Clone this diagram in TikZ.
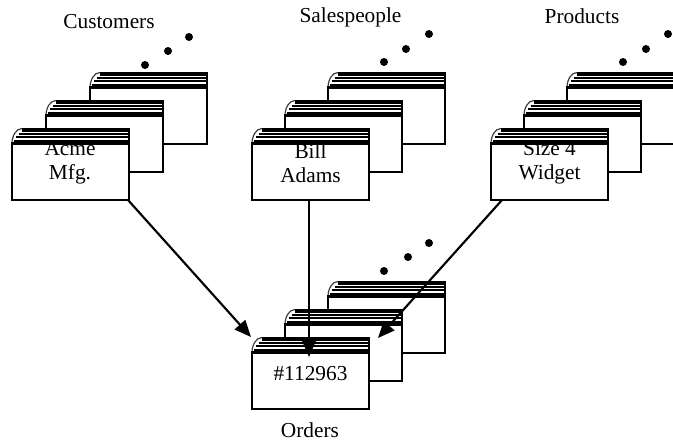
\documentclass[tikz,border=0pt]{standalone}
\usepackage{fontspec}
\setmainfont{Liberation Serif}
\usetikzlibrary{arrows.meta}
\tikzset{
  pics/card/.style={code={
    \fill[white] (0,15.5) -- (0,10) .. controls (1,4) and (4,0.3) .. (10,0.3) -- (117,0.3) -- (117,72) -- (0,72) -- cycle;
    \draw[line width=2.6pt] (10,1.8) -- (117,1.8);
    \draw[line width=1.5pt] (6.5,5.8) -- (117,5.8);
    \draw[line width=1.5pt] (3.8,9.3) -- (117,9.3);
    \draw[line width=1.5pt] (1.8,12.6) -- (117,12.6);
    \draw[line width=0.9pt, black!75] (0,15.5) .. controls (0,8) and (4,0.5) .. (10,0.5);
    \draw[line width=2.1pt] (0,15.5) rectangle (117,72);
    \draw[line width=2.1pt] (117,0.3) -- (117,72);
  }},
  dot/.style={fill=black, circle, inner sep=0pt, minimum size=6pt},
  lbl/.style={anchor=base, inner sep=0pt, font=\fontsize{16}{18}\selectfont},
  cardtext/.style={align=center, inner sep=0pt, font=\fontsize{16}{18.2}\selectfont},
  link/.style={line width=1.6pt, -{Triangle[length=12.5pt,width=10.5pt]}}
}
\begin{document}
\begin{tikzpicture}[x=0.75pt, y=-0.75pt]
\clip (0,0) rectangle (673,440);
\fill[white] (0,0) rectangle (673,440);

% Customers
\pic (cu3) at (90,72) {card};
\pic (cu2) at (46,100) {card};
\pic (cu1) at (12,128) {card};
\node[cardtext] (acme) at (70,163) {Acme\\Mfg.};
\node[dot] (cud1) at (145,65) {};
\node[dot] (cud2) at (168,51) {};
\node[dot] (cud3) at (189,37) {};
\node[lbl] (customers) at (109,28) {Customers};

% Salespeople
\pic (sa3) at (328,72) {card};
\pic (sa2) at (285,100) {card};
\pic (sa1) at (252,128) {card};
\node[cardtext] (bill) at (310.5,163) {Bill\\Adams};
\node[dot] (sad1) at (384,62) {};
\node[dot] (sad2) at (406,49) {};
\node[dot] (sad3) at (429,34) {};
\node[lbl] (salespeople) at (350.5,22) {Salespeople};

% Products
\pic (pr3) at (567,72) {card};
\pic (pr2) at (524,100) {card};
\pic (pr1) at (491,128) {card};
\node[cardtext] (widget) at (549.5,163) {Size 4\\Widget};
\node[dot] (prd1) at (623,62) {};
\node[dot] (prd2) at (646,49) {};
\node[dot] (prd3) at (668,34) {};
\node[lbl] (products) at (582,23) {Products};

% Orders
\pic (or3) at (328,281) {card};
\pic (or2) at (285,309) {card};
\pic (or1) at (252,337) {card};
\node[cardtext] (order) at (310.5,374) {\#112963};
\node[dot] (ord1) at (384,271) {};
\node[dot] (ord2) at (408,257) {};
\node[dot] (ord3) at (429,243) {};
\node[lbl] (orders) at (310,437) {Orders};

% connectors
\coordinate (cuout) at (128,200);
\coordinate (cuin) at (251,337);
\coordinate (saout) at (309,200);
\coordinate (sain) at (309,357);
\coordinate (prout) at (502,200);
\coordinate (prin) at (378,338);
\draw[link] (cuout) -- (cuin);
\draw[link] (saout) -- (sain);
\draw[link] (prout) -- (prin);
\end{tikzpicture}
\end{document}
